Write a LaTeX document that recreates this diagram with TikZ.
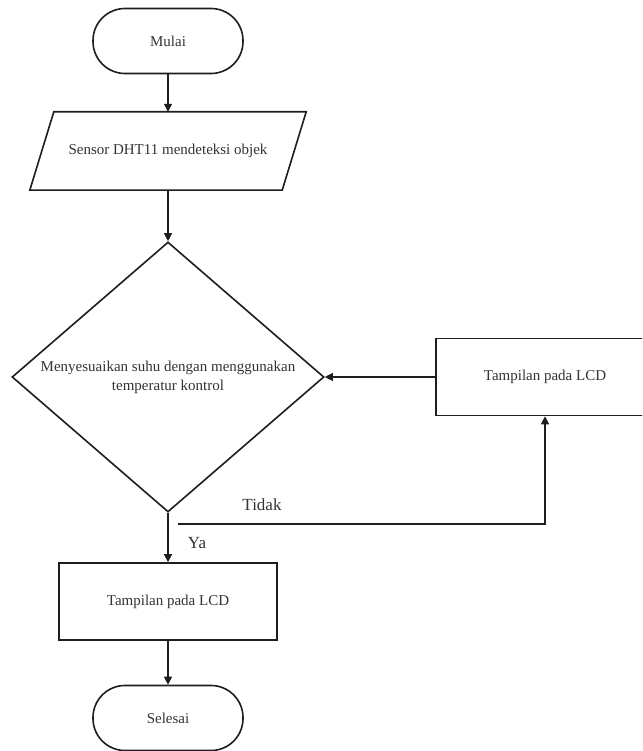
\documentclass[tikz,border=0pt]{standalone}
\usepackage{fontspec}
\setmainfont{Liberation Serif}
\usetikzlibrary{shapes.geometric,arrows.meta,calc}
\definecolor{ink}{HTML}{1E1E1E}
\definecolor{txt}{HTML}{333333}
\tikzset{
  shapeline/.style={draw=ink, line width=1.6pt},
  terminal/.style={shapeline, rounded corners=32pt, minimum width=150pt, minimum height=65pt, inner sep=0pt, font=\fontsize{15}{18}\selectfont, text=txt},
  procbox/.style={shapeline, rectangle, minimum width=218pt, minimum height=77pt, inner sep=0pt, font=\fontsize{15}{18}\selectfont, text=txt},
  plain/.style={inner sep=0pt, font=\fontsize{15}{19}\selectfont, text=txt, align=center},
  lbl/.style={inner sep=0pt, font=\fontsize{17}{20}\selectfont, text=txt},
  flow/.style={draw=ink, line width=1.2pt, -{Triangle[length=8pt,width=8pt]}},
}
\begin{document}
\begin{tikzpicture}[x=1pt,y=1pt]
\useasboundingbox (0,0) rectangle (642,-751);
\clip (0,0) rectangle (642,-751);
\fill[white] (0,0) rectangle (642,-751);

\node[terminal] (mulai) at (168,-41) {Mulai};

\node[plain, minimum width=252pt, minimum height=78pt] (sensor) at (168,-151) {Sensor DHT11 mendeteksi objek};
\draw[shapeline, line join=miter] ($(sensor.north west)+(12,0)$) -- ($(sensor.north east)+(12,0)$)
  -- ($(sensor.south east)+(-12,0)$) -- ($(sensor.south west)+(-12,0)$) -- cycle;

\node[shapeline, diamond, minimum width=312pt, minimum height=270pt, inner sep=0pt] (dec) at (168,-377) {};
\node[plain] (dectext) at (dec.center) {Menyesuaikan suhu dengan menggunakan\\temperatur kontrol};

\node[procbox] (lcdA) at (545,-377) {Tampilan pada LCD};
\node[procbox] (lcdB) at (168,-601.5) {Tampilan pada LCD};

\node[terminal] (selesai) at (168,-718) {Selesai};

\coordinate (tstart) at (178,-524);

\draw[flow] (mulai.south) -- (sensor.north);
\draw[flow] (sensor.south) -- (dec.north);
\draw[flow] (lcdA.west) -- (dec.east);
\draw[flow] (dec.south) -- (lcdB.north);
\draw[flow] (lcdB.south) -- (selesai.north);
\draw[flow] (tstart) -| (lcdA.south);

\node[lbl] (tidak) at (262,-505) {Tidak};
\node[lbl] (ya) at (197,-543) {Ya};
\end{tikzpicture}
\end{document}
